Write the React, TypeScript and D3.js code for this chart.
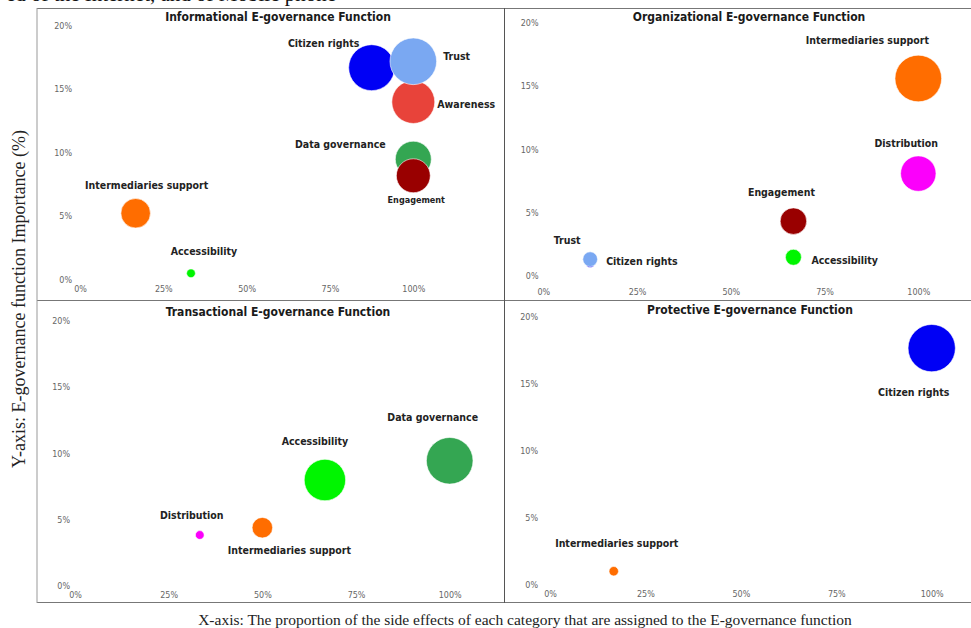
import { useRef, useEffect } from "react";
import * as d3 from "d3";

// values: x = share of side effects, y = importance (%), size = bubble weight
const infoNames = ["Intermediaries support", "Accessibility", "Citizen rights", "Awareness", "Trust", "Data governance", "Engagement"];
const infoX = [0.167, 0.333, 0.875, 1.0, 1.0, 1.0, 1.0];
const infoY = [5.25, 0.53, 16.7, 14.0, 17.2, 9.5, 8.2];
const infoSize = [6.8, 0.6, 16.5, 14.4, 17.0, 10.1, 9.0];

const orgNames = ["Intermediaries support", "Distribution", "Engagement", "Accessibility", "Citizen rights", "Trust"];
const orgX = [1.0, 1.0, 0.667, 0.667, 0.125, 0.125];
const orgY = [15.6, 8.1, 4.35, 1.5, 1.05, 1.35];
const orgSize = [17.0, 9.8, 5.5, 2.0, 0.65, 1.7];

const transNames = ["Data governance", "Accessibility", "Intermediaries support", "Distribution"];
const transX = [1.0, 0.667, 0.5, 0.333];
const transY = [9.45, 8.0, 4.4, 3.85];
const transSize = [17.0, 13.4, 3.3, 0.6];

const protNames = ["Citizen rights", "Intermediaries support"];
const protX = [1.0, 0.167];
const protY = [17.7, 1.05];
const protSize = [17.5, 0.7];

const xTicks = [0, 0.25, 0.5, 0.75, 1];
const yTicks = [0, 5, 10, 15, 20];

const colors: Record<string, string> = {
  "Citizen rights": "#0000f5",
  Trust: "#7aa8f2",
  Awareness: "#e8433a",
  "Data governance": "#34a652",
  Engagement: "#990000",
  "Intermediaries support": "#ff6d00",
  Accessibility: "#00f500",
  Distribution: "#fb00fb",
};

// label offsets from bubble centre [dx, dy, anchor]
const panels = [
  {
    title: "Informational E-governance Function",
    names: infoNames, xs: infoX, ys: infoY, sizes: infoSize,
    xr: [80, 413.3], yr: [280, 25.7], titleX: 278, titleY: 17, yLabX: 72, xLabDy: 9,
    labels: {
      "Citizen rights": [-48, -25, "middle"],
      Trust: [30, -5, "start"],
      Awareness: [24, 2, "start"],
      "Data governance": [-73, -15, "middle"],
      Engagement: [3, 24, "middle"],
      "Intermediaries support": [11, -28, "middle"],
      Accessibility: [13, -22, "middle"],
    } as Record<string, [number, number, string]>,
  },
  {
    title: "Organizational E-governance Function",
    names: orgNames, xs: orgX, ys: orgY, sizes: orgSize,
    xr: [543.3, 918.3], yr: [276.3, 22.7], titleX: 749, titleY: 16.5, yLabX: 538.5, xLabDy: 15.5,
    labels: {
      "Intermediaries support": [-51, -38, "middle"],
      Distribution: [-12, -31, "middle"],
      Engagement: [-12, -29, "middle"],
      Trust: [-23, -19, "middle"],
      "Citizen rights": [16, -2, "start"],
      Accessibility: [18, 3, "start"],
    } as Record<string, [number, number, string]>,
  },
  {
    title: "Transactional E-governance Function",
    names: transNames, xs: transX, ys: transY, sizes: transSize,
    xr: [75, 449.7], yr: [586, 321], titleX: 278, titleY: 312, yLabX: 70, xLabDy: 9,
    labels: {
      "Data governance": [-17, -44, "middle"],
      Accessibility: [-10, -39, "middle"],
      Distribution: [-8, -20, "middle"],
      "Intermediaries support": [27, 22, "middle"],
    } as Record<string, [number, number, string]>,
  },
  {
    title: "Protective E-governance Function",
    names: protNames, xs: protX, ys: protY, sizes: protSize,
    xr: [550, 931.7], yr: [585.3, 317.3], titleX: 750, titleY: 310, yLabX: 538, xLabDy: 9,
    labels: {
      "Citizen rights": [-18, 44, "middle"],
      "Intermediaries support": [3, -28, "middle"],
    } as Record<string, [number, number, string]>,
  },
];

const App = () => {
  const ref = useRef<SVGSVGElement>(null);

  useEffect(() => {
    const svg = d3.select(ref.current);
    svg.selectAll("*").remove();

    const rScale = d3.scaleSqrt().domain([0, 18]).range([0, 24]);
    const sans = "'DejaVu Sans', Verdana, sans-serif";

    // cut-off line of the page above the figure
    svg.append("text")
      .attr("x", 6).attr("y", 1)
      .attr("font-family", "'Liberation Serif', 'Times New Roman', serif")
      .attr("font-size", 21)
      .attr("fill", "#111")
      .text("ed of the Internet, and of Mobile phone");

    // frame
    const frame = svg.append("g").attr("stroke", "#777").attr("stroke-width", 1).attr("fill", "none");
    frame.append("line").attr("x1", 37).attr("x2", 971).attr("y1", 8.5).attr("y2", 8.5);
    frame.append("line").attr("x1", 37).attr("x2", 971).attr("y1", 300.5).attr("y2", 300.5);
    frame.append("line").attr("x1", 37).attr("x2", 971).attr("y1", 602.5).attr("y2", 602.5);
    frame.append("line").attr("x1", 37).attr("x2", 37).attr("y1", 8).attr("y2", 603).attr("stroke", "#999");
    frame.append("line").attr("x1", 504.5).attr("x2", 504.5).attr("y1", 8).attr("y2", 603).attr("stroke", "#555");

    panels.forEach(p => {
      const g = svg.append("g");
      const x = d3.scaleLinear().domain([0, 1]).range(p.xr);
      const y = d3.scaleLinear().domain([0, 20]).range(p.yr);

      g.append("text")
        .attr("x", p.titleX).attr("y", p.titleY)
        .attr("text-anchor", "middle").attr("dominant-baseline", "central")
        .attr("font-family", sans).attr("font-weight", "bold")
        .attr("font-stretch", "condensed")
        .attr("font-size", 12).attr("fill", "#1a1a1a")
        .text(p.title);

      const xAxis = g.append("g")
        .attr("transform", `translate(0, ${p.yr[0] + p.xLabDy})`)
        .call(d3.axisBottom(x).tickValues(xTicks).tickSize(0).tickPadding(0).tickFormat(d3.format(".0%")));
      xAxis.select(".domain").remove();
      xAxis.selectAll("text")
        .attr("dy", "0.35em")
        .attr("font-family", sans).attr("font-size", 8).attr("fill", "#666");

      const yAxis = g.append("g")
        .attr("transform", `translate(${p.yLabX}, 0)`)
        .call(d3.axisLeft(y).tickValues(yTicks).tickSize(0).tickPadding(0).tickFormat(d => `${d}%`));
      yAxis.select(".domain").remove();
      yAxis.selectAll("text")
        .attr("font-family", sans).attr("font-size", 8).attr("fill", "#666");

      const pts = p.names.map((n, i) => ({ name: n, x: p.xs[i], y: p.ys[i], s: p.sizes[i] }));

      g.selectAll("circle.bubble")
        .data(pts)
        .enter()
        .append("circle")
        .attr("class", "bubble")
        .attr("cx", d => x(d.x))
        .attr("cy", d => y(d.y))
        .attr("r", d => rScale(d.s))
        .attr("fill", d => colors[d.name])
        .attr("stroke", "#fff")
        .attr("stroke-width", 0.6);

      g.selectAll("text.lbl")
        .data(pts)
        .enter()
        .append("text")
        .attr("class", "lbl")
        .attr("x", d => x(d.x) + p.labels[d.name][0])
        .attr("y", d => y(d.y) + p.labels[d.name][1])
        .attr("text-anchor", d => p.labels[d.name][2])
        .attr("dominant-baseline", "central")
        .attr("font-family", sans).attr("font-weight", "bold")
        .attr("font-stretch", "condensed")
        .attr("font-size", d => (p.title.startsWith("Info") && d.name === "Engagement" ? 9 : 10.5))
        .attr("fill", "#222")
        .text(d => d.name);
    });

    // axis titles
    const serif = "'Liberation Serif', 'Times New Roman', serif";
    svg.append("text")
      .attr("transform", "translate(19, 299) rotate(-90)")
      .attr("text-anchor", "middle").attr("dominant-baseline", "central")
      .attr("font-family", serif).attr("font-size", 18).attr("fill", "#222")
      .text("Y-axis: E-governance function Importance (%)");
    svg.append("text")
      .attr("x", 525).attr("y", 619)
      .attr("text-anchor", "middle").attr("dominant-baseline", "central")
      .attr("font-family", serif).attr("font-size", 15.5).attr("fill", "#222")
      .text("X-axis: The proportion of the side effects of each category that are assigned to the E-governance function");

    return () => {
      svg.selectAll("*").remove();
    };
  }, []);

  return (
    <svg
      ref={ref}
      width={971}
      height={628}
      style={{ position: "absolute", left: 0, top: 0, background: "#fff" }}
    />
  );
};

export default App;
